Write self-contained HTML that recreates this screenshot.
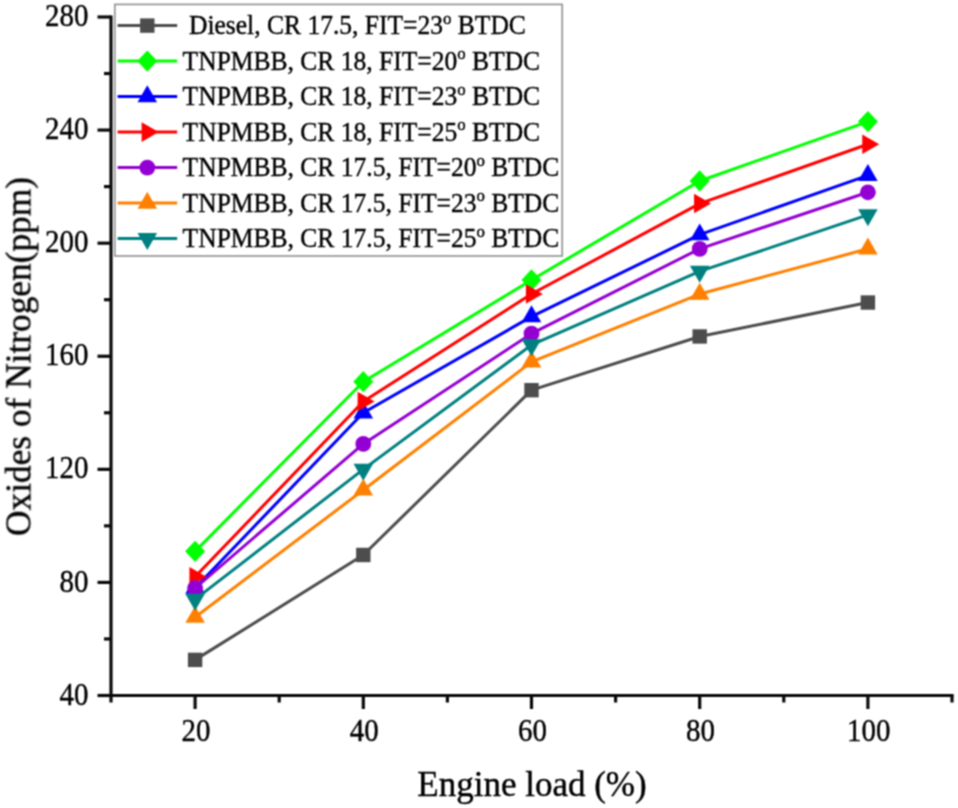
<!DOCTYPE html>
<html><head><meta charset="utf-8"><title>Oxides of Nitrogen vs Engine load</title>
<style>html,body{margin:0;padding:0;background:#fff}svg{display:block}text{font-family:"Liberation Serif","Times New Roman",serif;fill:#000;stroke:#000;stroke-width:0.4px}</style></head><body>
<svg width="958" height="808" viewBox="0 0 958 808">
<defs><filter id="soft" x="0" y="0" width="958" height="808" filterUnits="userSpaceOnUse" color-interpolation-filters="sRGB"><feConvolveMatrix order="3" kernelMatrix="1 2 1 2 4 2 1 2 1" divisor="16" edgeMode="duplicate" preserveAlpha="true"/></filter></defs>
<rect width="958" height="808" fill="#ffffff"/>
<g filter="url(#soft)">
<rect width="958" height="808" fill="#ffffff"/>
<g stroke="#0a0a0a" stroke-width="3.2" stroke-linecap="butt" fill="none">
<line x1="111.0" y1="15.4" x2="111.0" y2="697.1"/>
<line x1="109.4" y1="695.5" x2="953.6" y2="695.5"/>
<line x1="97.50" y1="695.50" x2="111.0" y2="695.50"/>
<line x1="104.00" y1="638.96" x2="111.0" y2="638.96"/>
<line x1="97.50" y1="582.42" x2="111.0" y2="582.42"/>
<line x1="104.00" y1="525.88" x2="111.0" y2="525.88"/>
<line x1="97.50" y1="469.33" x2="111.0" y2="469.33"/>
<line x1="104.00" y1="412.79" x2="111.0" y2="412.79"/>
<line x1="97.50" y1="356.25" x2="111.0" y2="356.25"/>
<line x1="104.00" y1="299.71" x2="111.0" y2="299.71"/>
<line x1="97.50" y1="243.17" x2="111.0" y2="243.17"/>
<line x1="104.00" y1="186.62" x2="111.0" y2="186.62"/>
<line x1="97.50" y1="130.08" x2="111.0" y2="130.08"/>
<line x1="104.00" y1="73.54" x2="111.0" y2="73.54"/>
<line x1="97.50" y1="17.00" x2="111.0" y2="17.00"/>
<line x1="111.00" y1="695.5" x2="111.00" y2="702.50"/>
<line x1="195.10" y1="695.5" x2="195.10" y2="709.00"/>
<line x1="279.20" y1="695.5" x2="279.20" y2="702.50"/>
<line x1="363.30" y1="695.5" x2="363.30" y2="709.00"/>
<line x1="447.40" y1="695.5" x2="447.40" y2="702.50"/>
<line x1="531.50" y1="695.5" x2="531.50" y2="709.00"/>
<line x1="615.60" y1="695.5" x2="615.60" y2="702.50"/>
<line x1="699.70" y1="695.5" x2="699.70" y2="709.00"/>
<line x1="783.80" y1="695.5" x2="783.80" y2="702.50"/>
<line x1="867.90" y1="695.5" x2="867.90" y2="709.00"/>
<line x1="952.00" y1="695.5" x2="952.00" y2="702.50"/>
</g>
<g font-size="31.5">
<text transform="translate(88.5,704.60) scale(0.92,1)" text-anchor="end">40</text>
<text transform="translate(88.5,591.52) scale(0.92,1)" text-anchor="end">80</text>
<text transform="translate(88.5,478.43) scale(0.92,1)" text-anchor="end">120</text>
<text transform="translate(88.5,365.35) scale(0.92,1)" text-anchor="end">160</text>
<text transform="translate(88.5,252.27) scale(0.92,1)" text-anchor="end">200</text>
<text transform="translate(88.5,139.18) scale(0.92,1)" text-anchor="end">240</text>
<text transform="translate(88.5,26.10) scale(0.92,1)" text-anchor="end">280</text>
<text transform="translate(196.00,741.2) scale(0.92,1)" text-anchor="middle">20</text>
<text transform="translate(364.20,741.2) scale(0.92,1)" text-anchor="middle">40</text>
<text transform="translate(532.40,741.2) scale(0.92,1)" text-anchor="middle">60</text>
<text transform="translate(700.60,741.2) scale(0.92,1)" text-anchor="middle">80</text>
<text transform="translate(868.80,741.2) scale(0.92,1)" text-anchor="middle">100</text>
</g>
<text x="532" y="796" font-size="35" text-anchor="middle">Engine load (%)</text>
<text transform="translate(30.4,356.5) rotate(-90)" font-size="35.3" text-anchor="middle">Oxides of Nitrogen(ppm)</text>
<polyline points="195.10,659.88 363.30,554.99 531.50,390.18 699.70,336.46 867.90,302.54" fill="none" stroke="#4d4d4d" stroke-width="3.0" stroke-linejoin="round"/>
<rect x="187.90" y="652.68" width="14.40" height="14.40" fill="#4d4d4d"/>
<rect x="356.10" y="547.79" width="14.40" height="14.40" fill="#4d4d4d"/>
<rect x="524.30" y="382.98" width="14.40" height="14.40" fill="#4d4d4d"/>
<rect x="692.50" y="329.26" width="14.40" height="14.40" fill="#4d4d4d"/>
<rect x="860.70" y="295.34" width="14.40" height="14.40" fill="#4d4d4d"/>
<polyline points="195.10,551.32 363.30,381.69 531.50,279.92 699.70,180.97 867.90,121.60" fill="none" stroke="#00ff00" stroke-width="3.0" stroke-linejoin="round"/>
<polygon points="195.10,540.72 205.10,551.32 195.10,561.92 185.10,551.32" fill="#00ff00"/>
<polygon points="363.30,371.09 373.30,381.69 363.30,392.29 353.30,381.69" fill="#00ff00"/>
<polygon points="531.50,269.32 541.50,279.92 531.50,290.52 521.50,279.92" fill="#00ff00"/>
<polygon points="699.70,170.37 709.70,180.97 699.70,191.57 689.70,180.97" fill="#00ff00"/>
<polygon points="867.90,111.00 877.90,121.60 867.90,132.20 857.90,121.60" fill="#00ff00"/>
<polyline points="195.10,588.07 363.30,412.79 531.50,316.67 699.70,234.69 867.90,175.32" fill="none" stroke="#0000ff" stroke-width="3.0" stroke-linejoin="round"/>
<polygon points="195.10,576.77 204.89,593.72 185.31,593.72" fill="#0000ff"/>
<polygon points="363.30,401.49 373.09,418.44 353.51,418.44" fill="#0000ff"/>
<polygon points="531.50,305.37 541.29,322.32 521.71,322.32" fill="#0000ff"/>
<polygon points="699.70,223.39 709.49,240.34 689.91,240.34" fill="#0000ff"/>
<polygon points="867.90,164.02 877.69,180.97 858.11,180.97" fill="#0000ff"/>
<polyline points="195.10,576.76 363.30,401.48 531.50,294.05 699.70,203.59 867.90,144.22" fill="none" stroke="#ff0000" stroke-width="3.0" stroke-linejoin="round"/>
<polygon points="206.40,576.76 189.45,566.98 189.45,586.55" fill="#ff0000"/>
<polygon points="374.60,401.48 357.65,391.70 357.65,411.27" fill="#ff0000"/>
<polygon points="542.80,294.05 525.85,284.27 525.85,303.84" fill="#ff0000"/>
<polygon points="711.00,203.59 694.05,193.80 694.05,213.37" fill="#ff0000"/>
<polygon points="879.20,144.22 862.25,134.43 862.25,154.00" fill="#ff0000"/>
<polyline points="195.10,588.07 363.30,443.89 531.50,333.63 699.70,248.82 867.90,192.28" fill="none" stroke="#9400d3" stroke-width="3.0" stroke-linejoin="round"/>
<circle cx="195.10" cy="588.07" r="7.9" fill="#9400d3"/>
<circle cx="363.30" cy="443.89" r="7.9" fill="#9400d3"/>
<circle cx="531.50" cy="333.63" r="7.9" fill="#9400d3"/>
<circle cx="699.70" cy="248.82" r="7.9" fill="#9400d3"/>
<circle cx="867.90" cy="192.28" r="7.9" fill="#9400d3"/>
<polyline points="195.10,617.19 363.30,489.97 531.50,361.90 699.70,294.05 867.90,248.82" fill="none" stroke="#ff8000" stroke-width="3.0" stroke-linejoin="round"/>
<polygon points="195.10,605.89 204.89,622.84 185.31,622.84" fill="#ff8000"/>
<polygon points="363.30,478.67 373.09,495.62 353.51,495.62" fill="#ff8000"/>
<polygon points="531.50,350.60 541.29,367.55 521.71,367.55" fill="#ff8000"/>
<polygon points="699.70,282.75 709.49,299.70 689.91,299.70" fill="#ff8000"/>
<polygon points="867.90,237.52 877.69,254.47 858.11,254.47" fill="#ff8000"/>
<polyline points="195.10,599.38 363.30,469.33 531.50,344.94 699.70,271.44 867.90,214.90" fill="none" stroke="#008080" stroke-width="3.0" stroke-linejoin="round"/>
<polygon points="195.10,610.68 204.89,593.73 185.31,593.73" fill="#008080"/>
<polygon points="363.30,480.63 373.09,463.68 353.51,463.68" fill="#008080"/>
<polygon points="531.50,356.24 541.29,339.29 521.71,339.29" fill="#008080"/>
<polygon points="699.70,282.74 709.49,265.79 689.91,265.79" fill="#008080"/>
<polygon points="867.90,226.20 877.69,209.25 858.11,209.25" fill="#008080"/>
<rect x="114.8" y="4.4" width="447.4" height="251.6" fill="#ffffff" stroke="#969696" stroke-width="1.7"/>
<line x1="117.6" y1="25.60" x2="177.2" y2="25.60" stroke="#4d4d4d" stroke-width="3.0"/>
<rect x="140.10" y="18.40" width="14.40" height="14.40" fill="#4d4d4d"/>
<text transform="translate(182.6,34.10) scale(0.96,1)" font-size="26.6" xml:space="preserve"> Diesel, CR 17.5, FIT=23<tspan font-size="17.5" dy="-10.2">o</tspan><tspan dy="10.2"> BTDC</tspan></text>
<line x1="117.6" y1="61.10" x2="177.2" y2="61.10" stroke="#00ff00" stroke-width="3.0"/>
<polygon points="147.30,50.50 157.30,61.10 147.30,71.70 137.30,61.10" fill="#00ff00"/>
<text transform="translate(182.6,69.60) scale(0.96,1)" font-size="26.6" xml:space="preserve">TNPMBB, CR 18, FIT=20<tspan font-size="17.5" dy="-10.2">o</tspan><tspan dy="10.2"> BTDC</tspan></text>
<line x1="117.6" y1="96.60" x2="177.2" y2="96.60" stroke="#0000ff" stroke-width="3.0"/>
<polygon points="147.30,85.30 157.09,102.25 137.51,102.25" fill="#0000ff"/>
<text transform="translate(182.6,105.10) scale(0.96,1)" font-size="26.6" xml:space="preserve">TNPMBB, CR 18, FIT=23<tspan font-size="17.5" dy="-10.2">o</tspan><tspan dy="10.2"> BTDC</tspan></text>
<line x1="117.6" y1="132.10" x2="177.2" y2="132.10" stroke="#ff0000" stroke-width="3.0"/>
<polygon points="158.60,132.10 141.65,122.31 141.65,141.89" fill="#ff0000"/>
<text transform="translate(182.6,140.60) scale(0.96,1)" font-size="26.6" xml:space="preserve">TNPMBB, CR 18, FIT=25<tspan font-size="17.5" dy="-10.2">o</tspan><tspan dy="10.2"> BTDC</tspan></text>
<line x1="117.6" y1="167.60" x2="177.2" y2="167.60" stroke="#9400d3" stroke-width="3.0"/>
<circle cx="147.30" cy="167.60" r="7.9" fill="#9400d3"/>
<text transform="translate(182.6,176.10) scale(0.96,1)" font-size="26.6" xml:space="preserve">TNPMBB, CR 17.5, FIT=20<tspan font-size="17.5" dy="-10.2">o</tspan><tspan dy="10.2"> BTDC</tspan></text>
<line x1="117.6" y1="203.10" x2="177.2" y2="203.10" stroke="#ff8000" stroke-width="3.0"/>
<polygon points="147.30,191.80 157.09,208.75 137.51,208.75" fill="#ff8000"/>
<text transform="translate(182.6,211.60) scale(0.96,1)" font-size="26.6" xml:space="preserve">TNPMBB, CR 17.5, FIT=23<tspan font-size="17.5" dy="-10.2">o</tspan><tspan dy="10.2"> BTDC</tspan></text>
<line x1="117.6" y1="238.60" x2="177.2" y2="238.60" stroke="#008080" stroke-width="3.0"/>
<polygon points="147.30,249.90 157.09,232.95 137.51,232.95" fill="#008080"/>
<text transform="translate(182.6,247.10) scale(0.96,1)" font-size="26.6" xml:space="preserve">TNPMBB, CR 17.5, FIT=25<tspan font-size="17.5" dy="-10.2">o</tspan><tspan dy="10.2"> BTDC</tspan></text>
</g>
</svg></body></html>
